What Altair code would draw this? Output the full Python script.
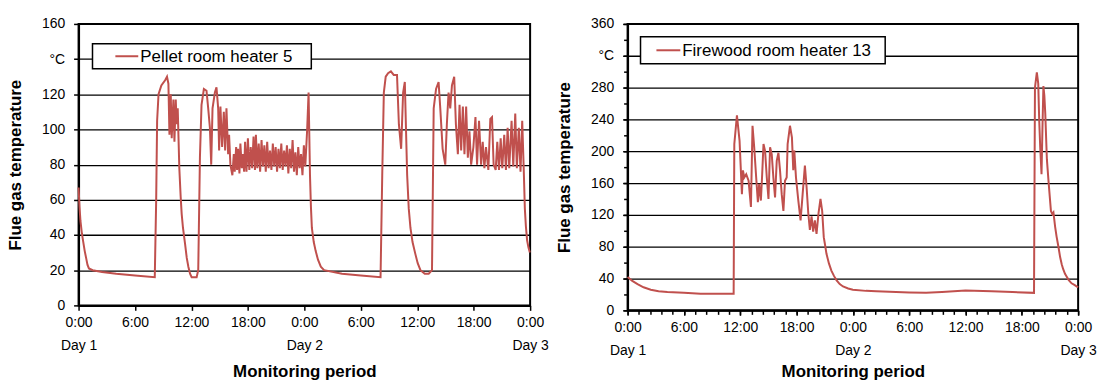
import altair as alt
import pandas as pd

# ---------------- data ----------------
pellet_hours = [
    0, 0.1, 0.2, 0.35, 0.5, 0.65, 0.8, 0.95, 1.1, 1.5, 2.5, 4, 6, 8.1,
    8.25, 8.35, 8.5, 8.8, 9.2, 9.4, 9.55, 9.66, 9.8, 9.9, 10.08, 10.19, 10.33, 10.43, 10.54,
    10.71, 10.85, 10.96, 11.1, 11.32, 11.5, 11.67, 11.85, 12.02, 12.55, 12.72,
    12.9, 13.07, 13.32, 13.6, 13.78, 13.96, 14.1, 14.24, 14.49, 14.66, 14.84, 14.94, 15.08,
    15.26, 15.44, 15.58, 15.72, 15.9, 16.0, 16.14, 16.35,
    16.5, 16.6, 16.75, 16.85, 16.95, 17.1, 17.2, 17.35, 17.45, 17.6, 17.7, 17.85, 18.0, 18.15,
    18.3, 18.45, 18.6, 18.75, 18.85, 19.0, 19.15, 19.3, 19.45, 19.6, 19.75, 19.9, 20.05, 20.2,
    20.35, 20.5, 20.65, 20.8, 20.95, 21.1, 21.25, 21.4, 21.55, 21.7, 21.85, 22.0, 22.15, 22.3,
    22.45, 22.6, 22.75, 22.9, 23.05, 23.2, 23.35, 23.5, 23.65, 23.8, 23.95, 24.1,
    24.3, 24.45, 24.6, 24.7, 24.8, 25.0, 25.2, 25.45, 25.75, 26.1, 28, 30, 32.1,
    32.28, 32.45, 32.65, 32.9, 33.2, 33.5, 33.85, 34.05, 34.29, 34.5, 34.68, 34.93, 35.1, 35.28,
    35.5, 35.81, 36.05, 36.34, 36.8, 37.22, 37.57,
    37.75, 38.0, 38.27, 38.45, 38.7, 38.98, 39.15, 39.33, 39.51, 39.69, 39.93, 40.11, 40.32,
    40.5, 40.67, 40.85, 41.02, 41.2, 41.38, 41.55, 41.73, 41.97, 42.19, 42.36, 42.57, 42.79,
    42.96, 43.14, 43.31, 43.56, 43.77, 43.95, 44.12, 44.34, 44.51, 44.69, 44.87, 45.04, 45.25,
    45.43, 45.61, 45.78, 46.03, 46.21, 46.42, 46.59, 46.8, 46.98, 47.16, 47.33, 47.44, 47.55,
    47.68, 47.82, 47.97,
]
pellet_temp = [
    67, 56, 48, 41, 36, 31, 27, 23, 21, 20, 19, 18, 17, 16,
    60, 105, 120, 125, 128, 130, 126, 97, 120, 95, 117, 93, 117, 103, 112,
    78, 62, 52, 44, 35, 27, 22, 18, 16, 16, 20,
    84, 114, 123, 122, 112, 101, 80, 112, 121, 124, 112, 88, 113,
    90, 110, 88, 112, 86, 97, 80, 74,
    86, 76, 90, 77, 89, 75, 92, 78, 86, 76, 93, 76, 95, 77,
    90, 78, 96, 77, 97, 78, 92, 76, 94, 79, 91, 76, 93, 78,
    88, 77, 92, 79, 90, 76, 89, 78, 92, 77, 88, 79, 91, 75,
    89, 78, 94, 76, 87, 74, 90, 78, 86, 74, 91, 79,
    100, 121, 74, 56, 44, 36, 31, 26, 22, 20, 18, 17, 16,
    74, 121, 130, 132, 133, 131, 131, 103, 89, 121, 127, 74, 55, 44,
    36, 29, 24, 20, 18, 18, 20,
    112, 123, 127, 112, 89, 80, 103, 121, 112, 125, 130, 103, 86,
    114, 88, 113, 86, 113, 84, 99, 80, 90, 107, 80, 105, 80,
    93, 78, 90, 77, 106, 107, 80, 77, 93, 77, 95, 78, 97,
    77, 101, 78, 105, 79, 109, 78, 101, 76, 105, 76, 55, 45,
    37, 33, 30,
]

firewood_hours = [
    0, 0.5, 1.06, 1.7, 2.47, 3.3, 4.24, 6, 7.77, 9.5, 11.3,
    11.37, 11.65, 11.93, 12.18, 12.29, 12.43, 12.64, 12.89, 13.14, 13.31, 13.49, 13.7, 13.88,
    14.02, 14.2, 14.34, 14.48, 14.65, 14.83, 15.01, 15.18, 15.36, 15.53, 15.71, 15.89, 16.07,
    16.24, 16.42, 16.6, 16.77, 16.95, 17.05, 17.3, 17.51, 17.65, 17.76, 17.94, 18.19, 18.43,
    18.65, 18.89, 19.07, 19.25, 19.42, 19.6, 19.77, 19.95, 20.13, 20.34, 20.55, 20.73, 20.9,
    21.0, 21.19, 21.45, 21.71, 22.0, 22.25, 22.6, 22.95, 23.5, 24.0, 25.4, 26.5, 28.6, 30,
    31.8, 33.5, 36, 38.8, 41, 43.3,
    43.4, 43.6, 43.75, 43.85, 43.96, 44.1, 44.2, 44.3, 44.4, 44.5, 44.67, 44.84, 45.1, 45.25,
    45.37, 45.55, 45.7, 45.9, 46.08, 46.25, 46.4, 46.6, 46.8, 47.0, 47.3, 47.6, 48,
]
firewood_temp = [
    42, 37, 33, 29, 26, 24, 23, 22, 21, 21, 21,
    209, 245, 213, 146, 176, 167, 171, 163, 130, 232, 205, 167, 136,
    159, 138, 171, 209, 200, 167, 140, 205, 196, 167, 142, 188, 198,
    176, 146, 125, 163, 167, 209, 232, 217, 176, 201, 167, 138, 113,
    146, 182, 155, 122, 101, 118, 99, 113, 96, 122, 140, 125, 92,
    85, 71, 59, 50, 43, 38, 33, 30, 27.5, 26, 24.5, 24, 23, 22.5,
    22, 23, 25, 24, 23, 22,
    280, 299, 285, 240, 205, 171, 230, 282, 270, 247, 190, 163, 125, 121,
    123, 105, 93, 80, 67, 58, 52, 46, 42, 38, 34, 32, 29,
]

x_major_ticks = [0, 6, 12, 18, 24, 30, 36, 42, 48]
x_minor_ticks = [round(i * 1.2, 1) for i in range(41)]
pellet_y_ticks = [0, 20, 40, 60, 80, 100, 120, 140, 160]
firewood_y_ticks = [0, 40, 80, 120, 160, 200, 240, 280, 320, 360]
firewood_y_minor = [0, 20, 40, 60, 80, 100, 120, 140, 160, 180, 200, 220, 240, 260, 280, 300, 320, 340, 360]

LINE = "#C0504D"
FONT = "Liberation Sans"

X_LABELS = (
    "datum.value == 0 ? ['0:00', 'Day 1'] : datum.value == 24 ? ['0:00', 'Day 2'] : "
    "datum.value == 48 ? ['0:00', 'Day 3'] : (datum.value % 24) + ':00'"
)


def panel(hours, temps, ymax, yticks, unit_at, legend_text, width, height,
          box, line_seg, text_x, title_y, minor=None):
    df = pd.DataFrame({"h": hours, "t": temps})
    xscale = alt.Scale(domain=[0, 48], nice=False, zero=False)
    yscale = alt.Scale(domain=[0, ymax], nice=False, zero=False)
    line = alt.Chart(df).mark_line(color=LINE, strokeWidth=2).encode(
        x=alt.X("h:Q", scale=xscale,
                axis=alt.Axis(values=x_major_ticks, labelExpr=X_LABELS, grid=False,
                              title="Monitoring period", labelOverlap=False, labelFlush=False,
                              labelLineHeight=23, labelPadding=5, tickSize=5,
                              titleY=title_y, titleBaseline="middle", orient="bottom")),
        y=alt.Y("t:Q", scale=yscale,
                axis=alt.Axis(values=yticks, grid=True, title="Flue gas temperature",
                              labelExpr=f"datum.value == {unit_at} ? '°C' : datum.label",
                              labelPadding=9, tickSize=5, titleX=-54, orient="left")),
    )
    ldf = pd.DataFrame({"label": [legend_text]})
    rect = alt.Chart(ldf).mark_rect(fill="white", stroke="black", strokeWidth=1.5).encode(
        x=alt.value(box[0]), x2=alt.value(box[1]), y=alt.value(box[2]), y2=alt.value(box[3]))
    ymid = (box[2] + box[3]) / 2
    seg = alt.Chart(ldf).mark_rule(color=LINE, strokeWidth=2).encode(
        x=alt.value(line_seg[0]), x2=alt.value(line_seg[1]), y=alt.value(ymid))
    txt = alt.Chart(ldf).mark_text(align="left", baseline="middle", fontSize=17, font=FONT,
                                   color="black").encode(
        x=alt.value(text_x), y=alt.value(ymid + 1), text="label:N")
    layers = [line]
    if minor is not None:
        mx, my = minor
        ghost = alt.Chart(df).mark_line(opacity=0).encode(
            x=alt.X("h:Q", scale=xscale,
                    axis=alt.Axis(values=mx, labels=False, domain=False, grid=False, title=None,
                                  tickSize=4, orient="bottom")),
            y=alt.Y("t:Q", scale=yscale,
                    axis=alt.Axis(values=my, labels=False, domain=False, grid=False, title=None,
                                  tickSize=4, orient="left")),
        )
        layers.append(ghost)
    ch = alt.layer(*layers, rect, seg, txt)
    if minor is not None:
        ch = ch.resolve_axis(x="independent", y="independent")
    return ch.properties(width=width, height=height)


left = panel(pellet_hours, pellet_temp, 160, pellet_y_ticks, 140, "Pellet room heater 5",
             454, 283, (14, 234, 20, 45), (37, 60), 62, 66)
right = panel(firewood_hours, firewood_temp, 360, firewood_y_ticks, 320, "Firewood room heater 13",
              453, 288, (13, 259, 13, 40), (29, 53), 55, 61,
              minor=(x_minor_ticks, firewood_y_minor))

chart = alt.hconcat(left, right, spacing=98, bounds="flush").properties(
    padding={"left": 5, "top": 15, "right": 5, "bottom": 5}
).configure_view(
    stroke="black", strokeWidth=2
).configure_axis(
    domainColor="black", domainWidth=2, tickColor="black", tickWidth=1.5,
    labelFont=FONT, labelFontSize=14, labelColor="black",
    titleFont=FONT, titleFontSize=17, titleFontWeight="bold", titleColor="black",
    gridColor="black", gridWidth=1.3, gridOpacity=1,
)

chart.save("out.html", embed_options={"renderer": "svg", "actions": False})
